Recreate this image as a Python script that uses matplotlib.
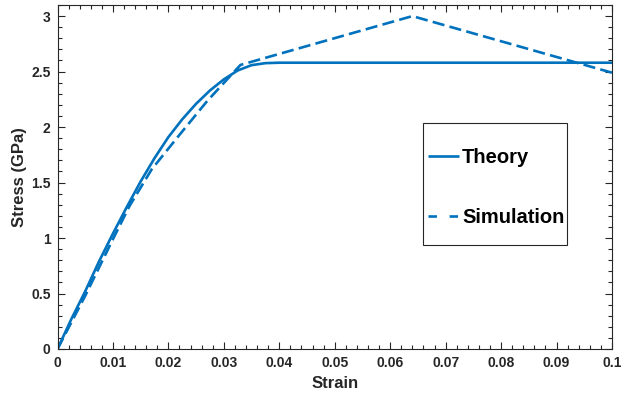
import numpy as np
import matplotlib.pyplot as plt
from matplotlib.lines import Line2D
from matplotlib.patches import Rectangle
from matplotlib.ticker import MultipleLocator, FuncFormatter

plt.rcParams['font.family'] = ['Liberation Sans', 'DejaVu Sans']
plt.rcParams['font.weight'] = 'bold'

# Data
theory_strain = [0, 0.0025, 0.005, 0.0075, 0.010, 0.0125, 0.015, 0.0175, 0.020,
                 0.0225, 0.025, 0.0275, 0.030, 0.0325, 0.035, 0.0375, 0.040, 0.1]
theory_stress = [0, 0.27, 0.52, 0.79, 1.04, 1.28, 1.51, 1.72, 1.91,
                 2.07, 2.21, 2.33, 2.43, 2.51, 2.558, 2.576, 2.58, 2.58]

sim_strain = [0, 0.005, 0.010, 0.013, 0.017, 0.022, 0.027, 0.0330, 0.064, 0.1]
sim_stress = [0, 0.48, 0.99, 1.29, 1.62, 1.93, 2.235, 2.56, 3.0, 2.49]

blue = '#0072BD'
axcol = '#262626'

fig = plt.figure(figsize=(6.21, 3.94), dpi=100)
ax = fig.add_axes([57.5 / 621, 1 - 349 / 394, (612 - 57.5) / 621, (349 - 5) / 394])

ax.plot(theory_strain, theory_stress, color=blue, lw=1.9, solid_capstyle='butt')
ax.plot(sim_strain, sim_stress, color=blue, lw=1.9, dashes=(4.6, 2.0), dash_capstyle='butt')

ax.set_xlim(0, 0.1)
ax.set_ylim(0, 3.1)
ax.xaxis.set_major_locator(MultipleLocator(0.01))
ax.xaxis.set_minor_locator(MultipleLocator(0.002))
ax.yaxis.set_major_locator(MultipleLocator(0.5))
ax.yaxis.set_minor_locator(MultipleLocator(0.1))
fmt = FuncFormatter(lambda v, p: '%g' % round(v, 4))
ax.xaxis.set_major_formatter(fmt)
ax.yaxis.set_major_formatter(fmt)

ax.tick_params(which='both', direction='in', top=True, right=True, colors=axcol,
               labelsize=10, width=0.8)
ax.tick_params(which='major', length=5, pad=5)
ax.tick_params(which='minor', length=2.7)
for s in ax.spines.values():
    s.set_color(axcol)
    s.set_linewidth(0.8)
for lab in ax.get_xticklabels() + ax.get_yticklabels():
    lab.set_fontweight('bold')

ax.set_xlabel('Strain', fontsize=12, fontweight='bold', color=axcol, labelpad=4)
ax.set_ylabel('Stress (GPa)', fontsize=12, fontweight='bold', color=axcol, labelpad=3)

# Legend: frame drawn separately to match the wide box
box = Rectangle((423 / 621, 1 - 245 / 394), (567 - 423) / 621, (245 - 123) / 394,
                transform=fig.transFigure, facecolor='white', edgecolor=axcol,
                lw=0.8, zorder=5)
fig.patches.append(box)
handles = [Line2D([], [], color=blue, lw=1.9, solid_capstyle='butt'),
           Line2D([], [], color=blue, lw=1.9, dashes=(3.2, 4.8), dash_capstyle='butt')]
leg = fig.legend(handles, ['Theory', 'Simulation'], loc='upper left',
                 bbox_to_anchor=(428 / 621, 1 - 148 / 394), frameon=False,
                 prop={'size': 14.5, 'weight': 'bold'}, handlelength=1.55,
                 handletextpad=0.15, labelspacing=2.05, borderpad=0, borderaxespad=0)
leg.set_zorder(6)

fig.savefig('out.png', dpi=100)
